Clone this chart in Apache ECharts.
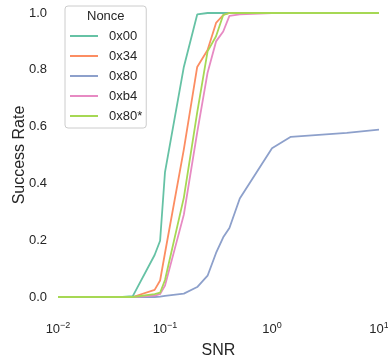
<!DOCTYPE html>
<html><head><meta charset="utf-8">
<script src="https://cdn.jsdelivr.net/npm/echarts@6/dist/echarts.min.js"></script>
<style>html,body{margin:0;padding:0;background:#fff}#c{width:388px;height:358px}</style>
</head><body><div id="c"></div>
<script>
const snr = [0.01, 0.02, 0.03, 0.04, 0.05, 0.08, 0.09, 0.1, 0.15, 0.2, 0.25, 0.3, 0.35, 0.4, 0.5, 1, 1.5, 5, 10];
const nonceNames = ['0x00', '0x34', '0x80', '0xb4', '0x80*'];
const n00  = [0, 0, 0, 0, 0.003, 0.148, 0.198, 0.44, 0.81, 0.995, 1, 1, 1, 1, 1, 1, 1, 1, 1];
const n34  = [0, 0, 0, 0, 0, 0.025, 0.058, 0.155, 0.52, 0.81, 0.87, 0.965, 0.993, 1, 1, 1, 1, 1, 1];
const n80  = [0, 0, 0, 0, 0, 0, 0.001, 0.004, 0.012, 0.035, 0.075, 0.155, 0.21, 0.243, 0.347, 0.524, 0.564, 0.578, 0.589];
const nb4  = [0, 0, 0, 0, 0, 0.005, 0.01, 0.04, 0.29, 0.58, 0.79, 0.9, 0.935, 0.99, 0.995, 1, 1, 1, 1];
const n80s = [0, 0, 0, 0, 0, 0.01, 0.015, 0.06, 0.35, 0.65, 0.865, 0.918, 0.993, 1, 1, 1, 1, 1, 1];
const yTicks = [0, 0.2, 0.4, 0.6, 0.8, 1.0];

const colors = ['#66c2a5', '#fc8d62', '#8da0cb', '#e78ac3', '#a6d854'];
const allVals = [n00, n34, n80, nb4, n80s];
const font = 'Liberation Sans, Arial, sans-serif';
const txt = '#262626';

const chart = echarts.init(document.getElementById('c'), null, {renderer: 'canvas'});
chart.setOption({
  animation: false,
  backgroundColor: '#fff',
  color: colors,
  grid: {left: 58, right: 9, top: 13, bottom: 61, containLabel: false, outerBoundsMode: 'none'},
  xAxis: {
    type: 'log', logBase: 10, min: 0.01, max: 10,
    axisLine: {show: false}, axisTick: {show: false}, splitLine: {show: false},
    minorTick: {show: false},
    axisLabel: {
      margin: 24, color: txt, fontFamily: font, fontSize: 13,
      showMinLabel: true, showMaxLabel: true, hideOverlap: false,
      formatter: v => '{b|10}{s|' + String(Math.round(Math.log10(v))).replace('-', '\u2212') + '}',
      rich: {
        b: {fontSize: 13, fontFamily: font, color: txt, verticalAlign: 'bottom', lineHeight: 15},
        s: {fontSize: 9, fontFamily: font, color: txt, verticalAlign: 'top', lineHeight: 10, padding: [0, 0, 8, 0]}
      }
    },
    name: 'SNR', nameLocation: 'middle', nameGap: 44,
    nameTextStyle: {fontSize: 16, fontFamily: font, color: txt}
  },
  yAxis: {
    type: 'value', min: 0, max: 1, interval: 0.2,
    axisLine: {show: false}, axisTick: {show: false}, splitLine: {show: false},
    axisLabel: {margin: 11, color: txt, fontFamily: font, fontSize: 13, formatter: v => v.toFixed(1)},
    name: 'Success Rate', nameLocation: 'middle', nameGap: 30, nameMoveOverlap: false,
    nameTextStyle: {fontSize: 16, fontFamily: font, color: txt}
  },
  legend: {
    orient: 'vertical', left: 65, top: 6,
    data: nonceNames,
    icon: 'rect', itemWidth: 28, itemHeight: 2, itemGap: 6,
    padding: [23, 4, 5, 5],
    borderColor: '#cccccc', borderWidth: 1, borderRadius: 3,
    backgroundColor: 'rgba(255,255,255,0.8)',
    textStyle: {fontSize: 13, fontFamily: font, color: txt, lineHeight: 14, padding: [0, 0, 0, 6]}
  },
  graphic: [{
    type: 'text', left: 87, top: 10, z: 100,
    style: {text: 'Nonce', fontSize: 13, fontFamily: font, fill: txt}
  }],
  series: nonceNames.map((n, i) => ({
    name: n, type: 'line', showSymbol: false, symbol: 'none', clip: false,
    lineStyle: {width: 1.8, color: colors[i]},
    itemStyle: {color: colors[i]},
    data: snr.map((x, j) => [x, allVals[i][j]])
  }))
});
</script></body></html>
